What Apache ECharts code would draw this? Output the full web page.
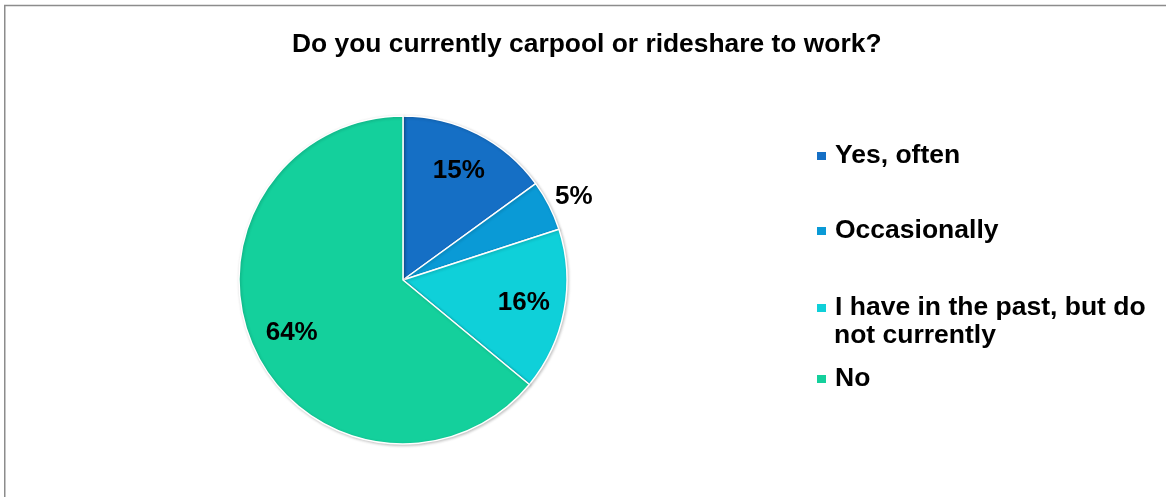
<!DOCTYPE html>
<html>
<head>
<meta charset="utf-8">
<script src="https://cdn.jsdelivr.net/npm/echarts@6/dist/echarts.min.js"></script>
<style>
  html, body { margin: 0; padding: 0; background: #ffffff; }
  #chart { width: 1167px; height: 497px; }
</style>
</head>
<body>
<div id="chart"></div>
<script>
// Survey answers and their shares (percent)
const categories = ['Yes, often', 'Occasionally', 'I have in the past, but do not currently', 'No'];
const shares = [15, 5, 16, 64];
const sliceColors = ['#156fc5', '#0a9ad6', '#0fd0d9', '#14d09c'];
// Legend lines (the third answer wraps onto a second line)
const legendLines = ['Yes, often', 'Occasionally', 'I have in the past, but do', 'No'];
const legendWrap = 'not currently';

const FONT = '"Liberation Sans", Arial, sans-serif';
const pieCenter = [403, 280];
const pieRadius = 164;

const pieData = categories.map((name, i) => ({
  name: name,
  value: shares[i],
  itemStyle: { color: sliceColors[i] }
}));

// Label ring: same slices, transparent, so labels sit three quarters out from the centre
const labelData = categories.map((name, i) => {
  const item = { name: name, value: shares[i] };
  if (shares[i] < 10) {
    item.label = { position: 'outside', distanceToLabelLine: -11 };
    item.labelLine = { show: false, length: 19, length2: 0 };
  }
  return item;
});

// One legend block per answer, stacked down the right side
const legendCenters = [156, 231, 308, 379];
const legends = categories.map((name, i) => ({
  data: [name],
  orient: 'vertical',
  left: 815,
  top: legendCenters[i] - 14,
  padding: 0,
  icon: 'rect',
  itemWidth: 11,
  itemHeight: 10,
  selectedMode: false,
  formatter: () => legendLines[i],
  textStyle: {
    fontFamily: FONT, fontWeight: 'bold', fontSize: 26.5, lineHeight: 28,
    color: '#000000', padding: [0, 0, 0, 3]
  }
}));

const chart = echarts.init(document.getElementById('chart'), null, { renderer: 'canvas' });
chart.setOption({
  backgroundColor: '#ffffff',
  animation: false,
  title: {
    text: 'Do you currently carpool or rideshare to work?',
    left: 292,
    top: 32,
    padding: 0,
    textStyle: { fontFamily: FONT, fontWeight: 'bold', fontSize: 26.4, color: '#000000' }
  },
  legend: legends,
  graphic: [
    {
      type: 'polyline',
      silent: true,
      shape: { points: [[4.75, 497], [4.75, 5.5], [1166, 5.5]] },
      style: { stroke: '#8c8c8c', lineWidth: 1.5, fill: null }
    },
    {
      type: 'text',
      silent: true,
      left: 834,
      top: 322,
      style: {
        text: legendWrap,
        font: 'bold 26.5px ' + FONT,
        fill: '#000000',
        lineHeight: 28
      }
    }
  ],
  series: [
    {
      type: 'pie',
      center: pieCenter,
      radius: [0, pieRadius],
      startAngle: 90,
      clockwise: true,
      silent: true,
      label: { show: false },
      labelLine: { show: false },
      itemStyle: {
        borderColor: '#ffffff',
        borderWidth: 1.5,
        shadowBlur: 3,
        shadowColor: 'rgba(0,0,0,0.22)',
        shadowOffsetX: 1,
        shadowOffsetY: 1
      },
      emphasis: { disabled: true },
      data: pieData
    },
    {
      type: 'pie',
      center: pieCenter,
      radius: [76, pieRadius],
      startAngle: 90,
      clockwise: true,
      silent: true,
      avoidLabelOverlap: false,
      itemStyle: { color: 'rgba(0,0,0,0)' },
      label: {
        show: true,
        position: 'inside',
        formatter: '{c}%',
        fontFamily: FONT,
        fontWeight: 'bold',
        fontSize: 26,
        color: '#000000'
      },
      labelLine: { show: false },
      emphasis: { disabled: true },
      data: labelData
    }
  ]
});
</script>
</body>
</html>
